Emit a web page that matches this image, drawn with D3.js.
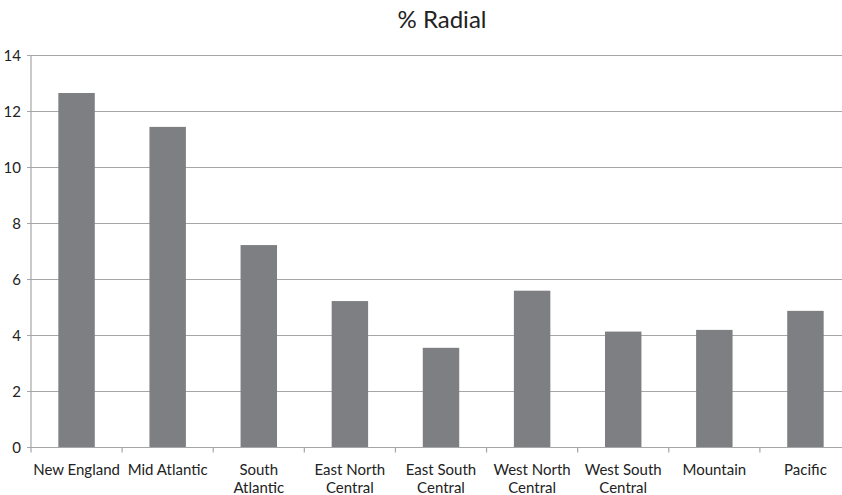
<!DOCTYPE html>
<html><head><meta charset="utf-8">
<script src="https://cdn.jsdelivr.net/npm/d3@7"></script>
<style>body{margin:0;background:#fff}svg{display:block}</style>
</head><body>
<svg id="c" width="842" height="495"></svg>
<script>
const categories = ["New England","Mid Atlantic","South Atlantic","East North Central","East South Central","West North Central","West South Central","Mountain","Pacific"];
const labelLines = [["New England"],["Mid Atlantic"],["South","Atlantic"],["East North","Central"],["East South","Central"],["West North","Central"],["West South","Central"],["Mountain"],["Pacific"]];
const values = [12.66,11.45,7.23,5.23,3.56,5.6,4.14,4.2,4.88];
const yTicks = [0,2,4,6,8,10,12,14];
const title = "% Radial";

(function(){
const svg = d3.select("#c");
const font = "Lato, 'Noto Sans', sans-serif";
const pLeft = 31, pRight = 851, pTop = 55.5, pBottom = 447.5;
const xb = d3.scaleBand().domain(categories).range([pLeft, pRight]);
const y = d3.scaleLinear().domain([0,14]).range([pBottom, pTop]);

svg.append("g").selectAll("line").data(yTicks.filter(d=>d>0)).join("line")
  .attr("x1", pLeft-4).attr("x2", 842).attr("y1", d=>y(d)).attr("y2", d=>y(d))
  .attr("stroke","#a6a6a6").attr("stroke-width",1.2);

svg.append("g").selectAll("rect").data(values).join("rect")
  .attr("x",(d,i)=>xb(categories[i]) + xb.bandwidth()*0.3)
  .attr("width", xb.bandwidth()*0.4)
  .attr("y", d=>y(d)).attr("height", d=>y(0)-y(d))
  .attr("fill","#7e7f83");

svg.append("line").attr("x1",pLeft).attr("x2",pLeft).attr("y1",pTop).attr("y2",pBottom)
  .attr("stroke","#a6a6a6").attr("stroke-width",1.2);
svg.append("line").attr("x1",pLeft-4).attr("x2",842).attr("y1",pBottom).attr("y2",pBottom)
  .attr("stroke","#a6a6a6").attr("stroke-width",1.2);
svg.append("g").selectAll("line").data(categories).join("line")
  .attr("x1",d=>xb(d)).attr("x2",d=>xb(d)).attr("y1",pBottom).attr("y2",pBottom+5)
  .attr("stroke","#a6a6a6").attr("stroke-width",1.2);

svg.append("g").selectAll("text").data(yTicks).join("text")
  .attr("x", 21).attr("y", d=>y(d)).attr("dy","0.35em")
  .attr("text-anchor","end").attr("font-family",font).attr("font-size",15).attr("fill","#222")
  .text(d=>d);

const xl = svg.append("g").selectAll("text").data(categories).join("text")
  .attr("x", d=>xb(d)+xb.bandwidth()/2).attr("y", 475)
  .attr("text-anchor","middle").attr("font-family",font).attr("font-size",15).attr("fill","#222");
xl.each(function(d,i){
  d3.select(this).selectAll("tspan").data(labelLines[i]).join("tspan")
    .attr("x", xb(d)+xb.bandwidth()/2).attr("dy",(t,j)=>j===0?0:18).text(t=>t);
});

svg.append("text").attr("x",442).attr("y",28).attr("text-anchor","middle")
  .attr("font-family",font).attr("font-size",24).attr("fill","#222").text(title);
})();
</script>
</body></html>
